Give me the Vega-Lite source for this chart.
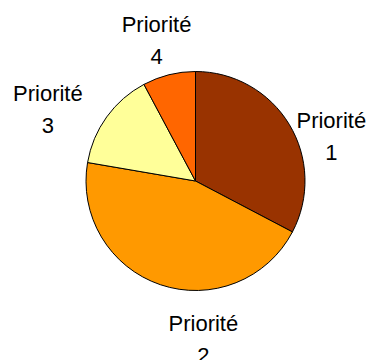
{
  "$schema": "https://vega.github.io/schema/vega-lite/v6.json",
  "autosize": {"type": "fit", "contains": "padding"},
  "width": 372,
  "height": 360,
  "padding": {"left": 19, "top": 9, "right": 0, "bottom": 0},
  "background": "white",
  "config": {"view": {"stroke": null}},
  "data": {
    "values": [
      {"k": "Priorité 1", "v": 32.7, "o": 1},
      {"k": "Priorité 2", "v": 45.0, "o": 2},
      {"k": "Priorité 3", "v": 14.5, "o": 3},
      {"k": "Priorité 4", "v": 7.8, "o": 4}
    ]
  },
  "encoding": {
    "theta": {"field": "v", "type": "quantitative", "stack": true},
    "order": {"field": "o", "type": "quantitative"}
  },
  "layer": [
    {
      "mark": {"type": "arc", "outerRadius": 109.5, "stroke": "black", "strokeWidth": 1},
      "encoding": {
        "color": {
          "field": "k", "type": "nominal", "legend": null,
          "scale": {"domain": ["Priorité 1", "Priorité 2", "Priorité 3", "Priorité 4"], "range": ["#993300", "#FF9900", "#FFFF99", "#FF6600"]}
        }
      }
    },
    {
      "mark": {"type": "text", "radius": 140, "dx": 16, "dy": 12, "font": "Liberation Sans", "fontSize": 22, "lineHeight": 32, "lineBreak": " ", "color": "black"},
      "encoding": {"text": {"condition": {"test": "datum.k === 'Priorité 1'", "field": "k"}, "value": ""}}
    },
    {
      "mark": {"type": "text", "radius": 150, "dx": 56, "dy": 1, "font": "Liberation Sans", "fontSize": 22, "lineHeight": 32, "lineBreak": " ", "color": "black"},
      "encoding": {"text": {"condition": {"test": "datum.k === 'Priorité 2'", "field": "k"}, "value": ""}}
    },
    {
      "mark": {"type": "text", "radius": 150, "dx": -26, "dy": 1, "font": "Liberation Sans", "fontSize": 22, "lineHeight": 32, "lineBreak": " ", "color": "black"},
      "encoding": {"text": {"condition": {"test": "datum.k === 'Priorité 3'", "field": "k"}, "value": ""}}
    },
    {
      "mark": {"type": "text", "radius": 140, "dx": -5, "dy": -20, "font": "Liberation Sans", "fontSize": 22, "lineHeight": 32, "lineBreak": " ", "color": "black"},
      "encoding": {"text": {"condition": {"test": "datum.k === 'Priorité 4'", "field": "k"}, "value": ""}}
    }
  ]
}
